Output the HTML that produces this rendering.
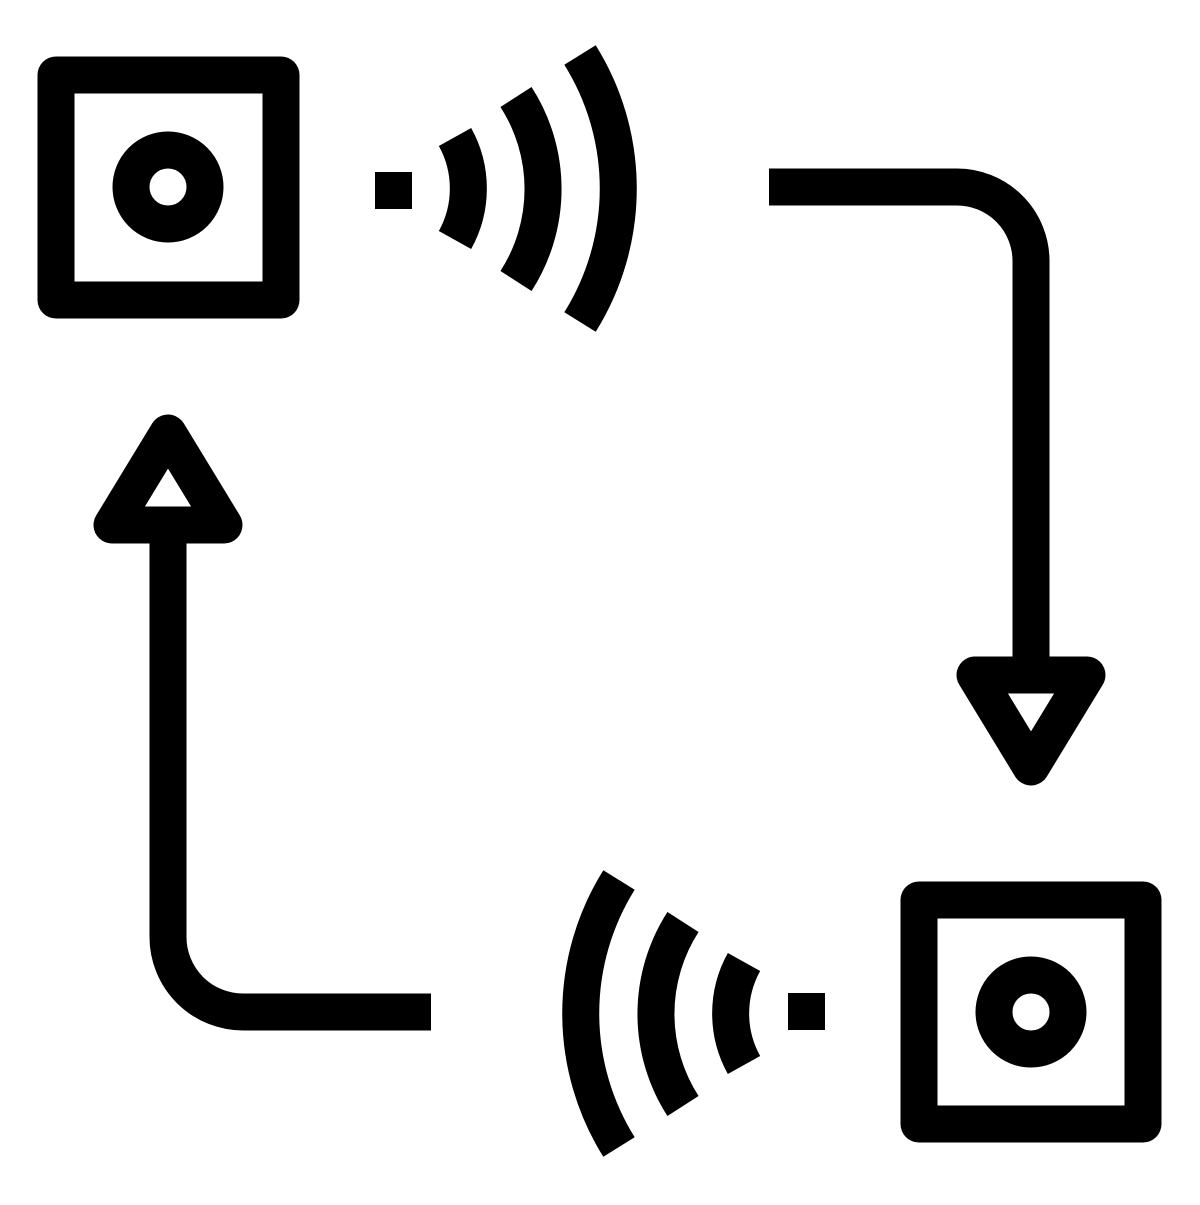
<!DOCTYPE html>
<html><head><style>html,body{margin:0;padding:0;background:#fff}</style></head>
<body>
<svg width="1200" height="1200" viewBox="0 0 1200 1200" xmlns="http://www.w3.org/2000/svg">
<g fill="none" stroke="#000" stroke-width="37">
  <g id="a">
    <rect x="56" y="75" width="225" height="225" stroke-linejoin="round"/>
    <circle cx="168" cy="187" r="37"/>
    <path d="M455 137 A106 106 0 0 1 455 240"/>
    <path d="M516 97 A170 170 0 0 1 516 281"/>
    <path d="M580 55 A252 252 0 0 1 580 322"/>
  </g>
  <g transform="translate(1199,825) scale(-1,1)">
    <path d="M455 137 A106 106 0 0 1 455 240"/>
    <path d="M516 97 A170 170 0 0 1 516 281"/>
    <path d="M580 55 A252 252 0 0 1 580 322"/>
  </g>
  <rect x="919" y="900" width="224" height="224" stroke-linejoin="round"/>
  <circle cx="1031" cy="1012" r="37"/>
  <path d="M769 187 H957 A74 74 0 0 1 1031 261 V675"/>
  <path d="M975 675 H1087 L1031 767 Z" stroke-linejoin="round"/>
  <path d="M431 1012 H243 A75 75 0 0 1 168 937 V525"/>
  <path d="M112 525 H224 L168 433 Z" stroke-linejoin="round"/>
</g>
<rect x="375" y="172" width="37" height="37" fill="#000"/>
<rect x="788" y="993" width="37" height="37" fill="#000"/>
</svg>
</body></html>
